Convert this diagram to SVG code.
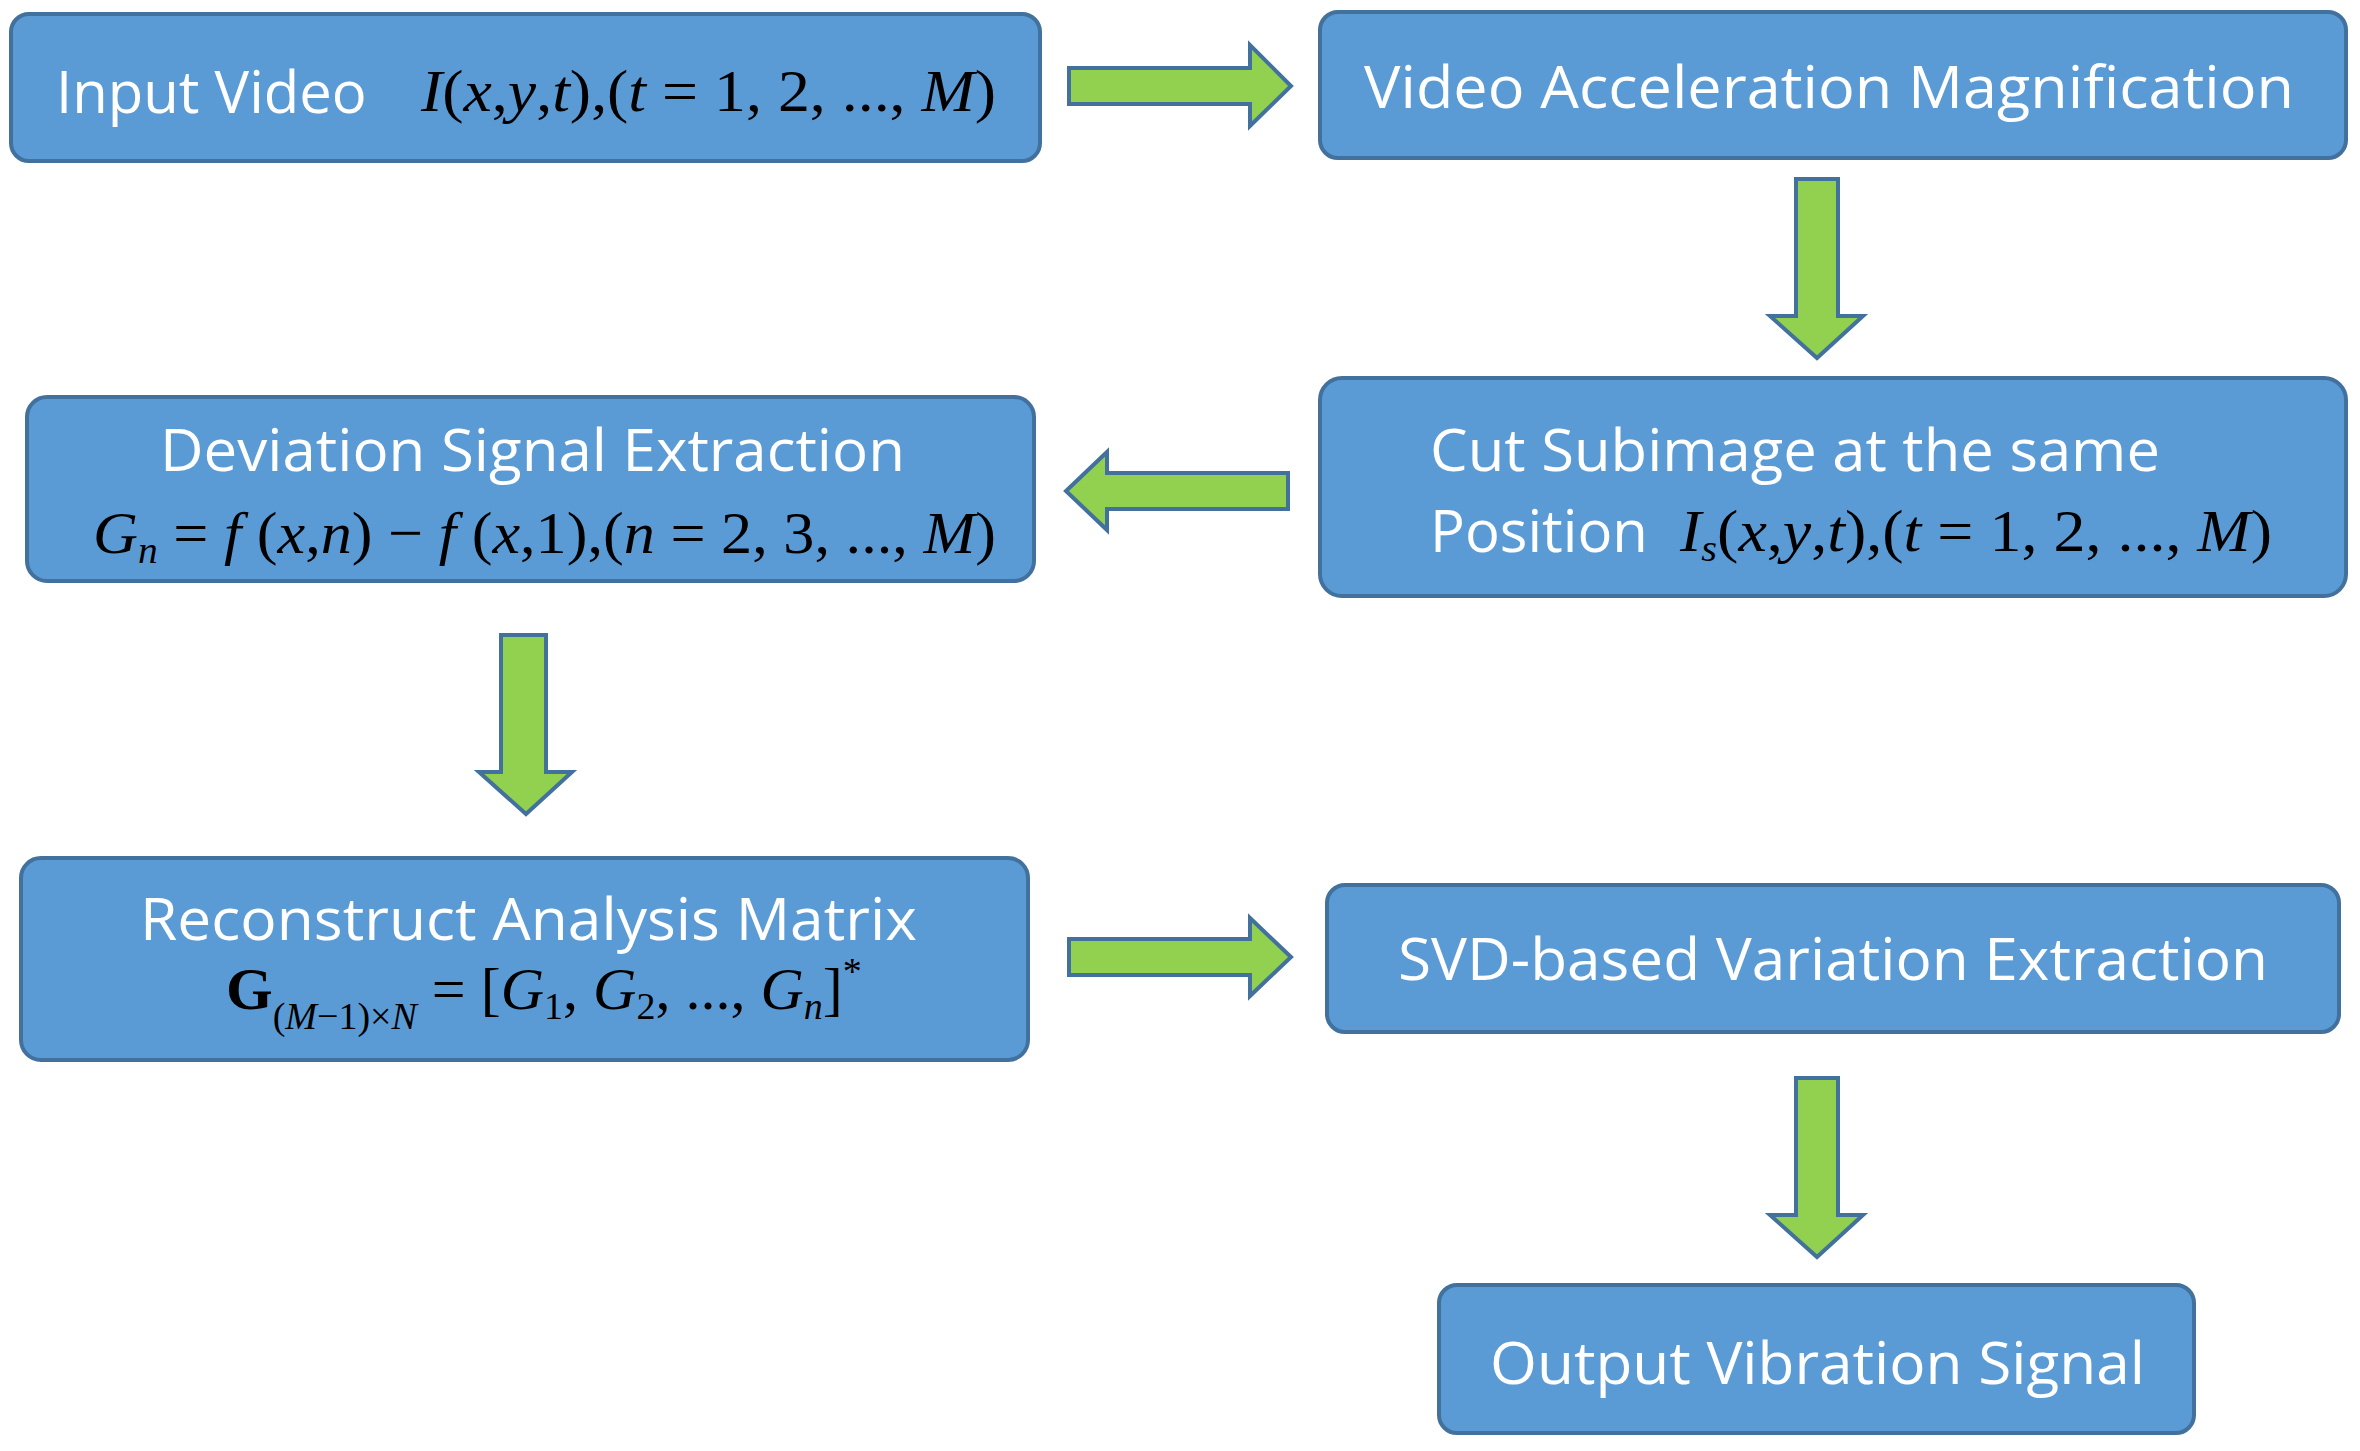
<svg xmlns="http://www.w3.org/2000/svg" width="2360" height="1451" viewBox="0 0 2360 1451">
<style>
.box{fill:#5B9BD5;stroke:#41719C;stroke-width:4}
.arr{fill:#92D050;stroke:#41719C;stroke-width:4;stroke-linejoin:miter}
.t{font-family:"Open Sans","Liberation Sans",sans-serif;font-size:58px;fill:#fff}
.m{font-family:"Liberation Serif",serif;font-size:60px;fill:#000;font-style:italic}
.u{font-style:normal}
.s{font-size:38px}
</style>
<rect width="2360" height="1451" fill="#fff"/>
<g id="n1"><rect class="box" x="11" y="14" width="1029" height="147" rx="18"/>
<text class="t" x="56" y="113">Input Video</text>
<text class="m" x="421" y="111" textLength="575" lengthAdjust="spacingAndGlyphs">I<tspan class="u">(</tspan>x<tspan class="u">,</tspan>y<tspan class="u">,</tspan>t<tspan class="u">),(</tspan>t<tspan class="u"> = 1, 2, ..., </tspan>M<tspan class="u">)</tspan></text></g>
<g id="n2"><rect class="box" x="1320" y="12" width="1026" height="146" rx="18"/>
<text class="t" x="1364" y="108" textLength="930" lengthAdjust="spacingAndGlyphs">Video Acceleration Magnification</text></g>
<g id="n3"><rect class="box" x="1320" y="378" width="1026" height="218" rx="22"/>
<text class="t" x="1430" y="471" textLength="730" lengthAdjust="spacingAndGlyphs">Cut Subimage at the same</text>
<text class="t" x="1430" y="552">Position</text>
<text class="m" x="1680" y="551" textLength="592" lengthAdjust="spacingAndGlyphs">I<tspan class="s" dy="10">s</tspan><tspan class="u" dy="-10">(</tspan>x<tspan class="u">,</tspan>y<tspan class="u">,</tspan>t<tspan class="u">),(</tspan>t<tspan class="u"> = 1, 2, ..., </tspan>M<tspan class="u">)</tspan></text></g>
<g id="n4"><rect class="box" x="27" y="397" width="1007" height="184" rx="20"/>
<text class="t" x="160" y="471" textLength="745" lengthAdjust="spacingAndGlyphs">Deviation Signal Extraction</text>
<text class="m" x="93" y="553" textLength="903" lengthAdjust="spacingAndGlyphs">G<tspan class="s" dy="10">n</tspan><tspan class="u" dy="-10"> = </tspan>f<tspan class="u"> (</tspan>x<tspan class="u">,</tspan>n<tspan class="u">) − </tspan>f<tspan class="u"> (</tspan>x<tspan class="u">,1),(</tspan>n<tspan class="u"> = 2, 3, ..., </tspan>M<tspan class="u">)</tspan></text></g>
<g id="n5"><rect class="box" x="21" y="858" width="1007" height="202" rx="20"/>
<text class="t" x="140" y="940" textLength="777" lengthAdjust="spacingAndGlyphs">Reconstruct Analysis Matrix</text>
<text class="m" x="226" y="1009"><tspan class="u" font-weight="bold">G</tspan><tspan class="s u" dy="20">(</tspan><tspan class="s">M</tspan><tspan class="s u">−1)×</tspan><tspan class="s">N</tspan><tspan class="u" dy="-20"> = [</tspan>G<tspan class="s u" dy="10">1</tspan><tspan class="u" dy="-10">, </tspan>G<tspan class="s u" dy="10">2</tspan><tspan class="u" dy="-10">, ..., </tspan>G<tspan class="s" dy="10">n</tspan><tspan class="u" dy="-10">]</tspan><tspan class="s u" dy="-25">*</tspan></text></g>
<g id="n6"><rect class="box" x="1327" y="885" width="1012" height="147" rx="18"/>
<text class="t" x="1398" y="980" textLength="870" lengthAdjust="spacingAndGlyphs">SVD-based Variation Extraction</text></g>
<g id="n7"><rect class="box" x="1439" y="1285" width="755" height="148" rx="18"/>
<text class="t" x="1490" y="1384" textLength="655" lengthAdjust="spacingAndGlyphs">Output Vibration Signal</text></g>
<g id="connectors">
<polygon class="arr" points="1069,68 1250,68 1250,45 1291,86 1250,126 1250,104 1069,104"/>
<polygon class="arr" points="1796,179 1838,179 1838,316 1863,316 1817,358 1770,316 1796,316"/>
<polygon class="arr" points="1288,473 1107,473 1107,452 1066,491 1107,530 1107,509 1288,509"/>
<polygon class="arr" points="501,635 546,635 546,772 572,772 526,814 479,772 501,772"/>
<polygon class="arr" points="1069,939 1250,939 1250,918 1291,957 1250,996 1250,975 1069,975"/>
<polygon class="arr" points="1796,1078 1838,1078 1838,1215 1863,1215 1817,1257 1770,1215 1796,1215"/>
</g>
</svg>
